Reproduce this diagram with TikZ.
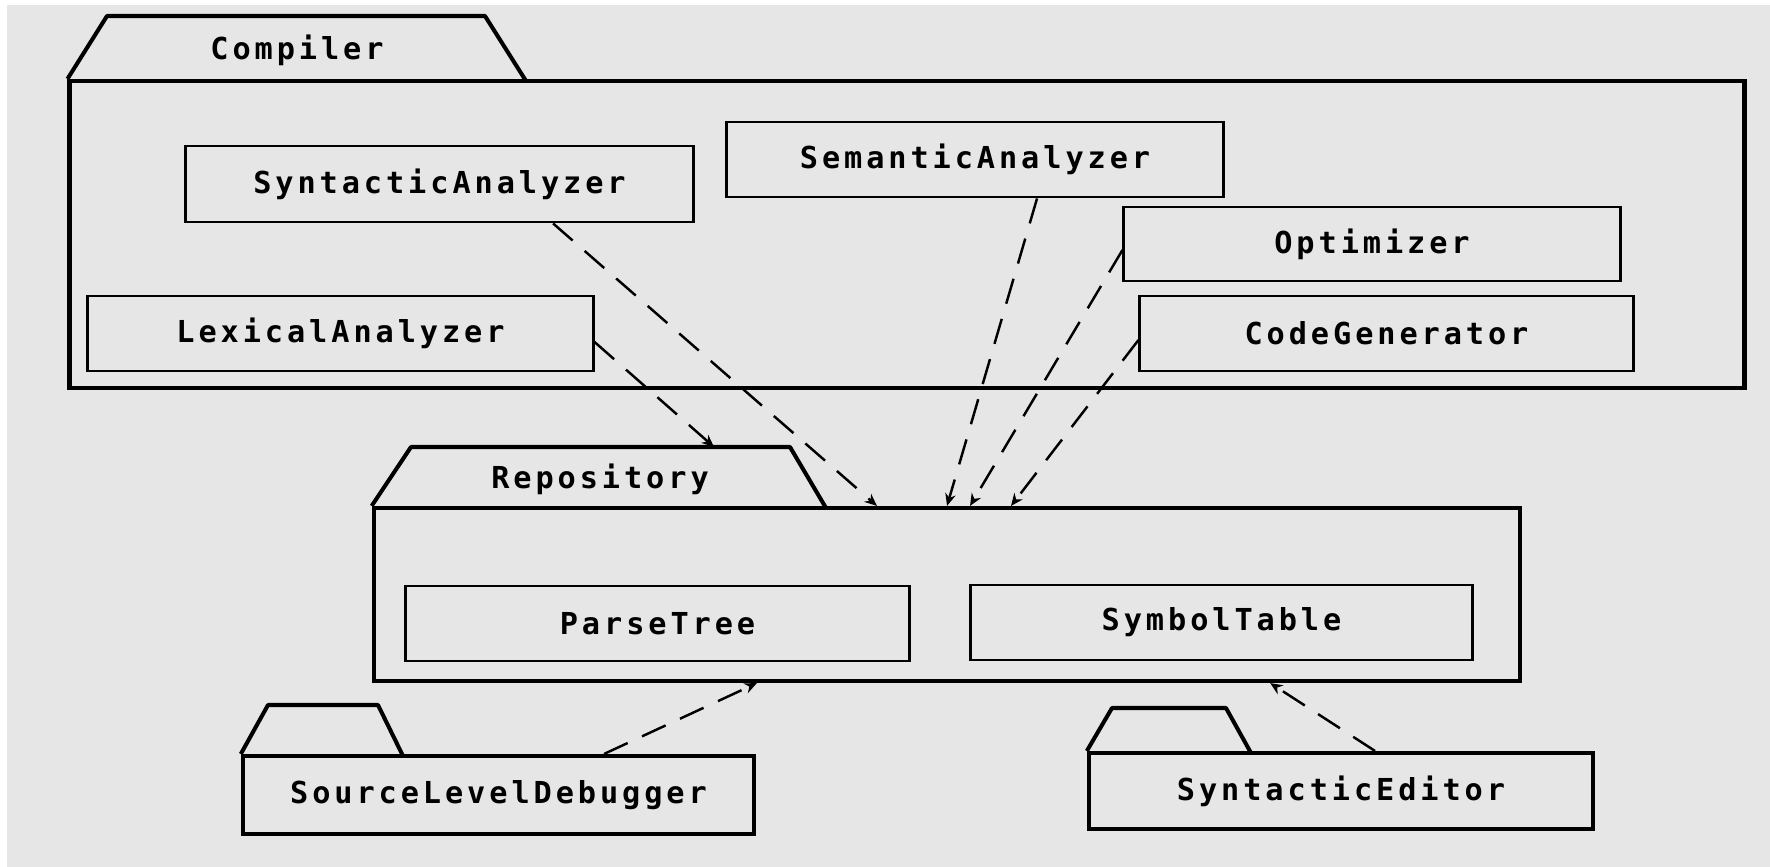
\documentclass[tikz,border=0pt]{standalone}
\usepackage{fontspec}
\newfontfamily\lblfont[LetterSpace=13]{DejaVu Sans Mono}
\usetikzlibrary{arrows.meta}
\definecolor{bg}{HTML}{E6E6E6}
\begin{document}
\begin{tikzpicture}[x=0.01cm,y=-0.01cm,
  txt/.style={font=\lblfont\fontsize{8.6pt}{10pt}\selectfont\bfseries},
  pkg/.style={draw=black, line width=1.15pt, rectangle, inner sep=0pt},
  cls/.style={draw=black, line width=0.8pt, rectangle, inner sep=0pt, txt},
  lbl/.style={inner sep=0pt, txt},
  tab/.style={draw=black, line width=1.15pt, line join=round},
  dep/.style={line width=0.7pt, dash pattern=on 7.4pt off 4.5pt, -{Stealth[length=3.5pt,width=3pt]}}
]
\useasboundingbox (0,0) rectangle (1770,867);
\fill[bg] (0,0) rectangle (1770,867);
\fill[white] (0,0) rectangle (1770,5);
\fill[white] (0,0) rectangle (7,867);

% Compiler package
\node[pkg, minimum width=16.74cm, minimum height=3.07cm] (compiler) at (907,234.5) {};
\draw[tab] (compiler.north west) -- (107,16) -- (485,16) -- (526,81);
\node[lbl] (compilerlbl) at (297,50) {Compiler};

\node[cls, minimum width=5.07cm, minimum height=0.76cm] (synt) at (439.5,184) {SyntacticAnalyzer};
\node[cls, minimum width=4.96cm, minimum height=0.75cm] (sem) at (975,159.5) {SemanticAnalyzer};
\node[cls, minimum width=4.96cm, minimum height=0.74cm] (opt) at (1372,244) {Optimizer};
\node[cls, minimum width=5.05cm, minimum height=0.75cm] (lex) at (340.5,333.5) {LexicalAnalyzer};
\node[cls, minimum width=4.93cm, minimum height=0.75cm] (code) at (1386.5,333.5) {CodeGenerator};

% Repository package
\node[pkg, minimum width=11.46cm, minimum height=1.73cm] (repo) at (947,594.5) {};
\draw[tab] (repo.north west) -- (411,447) -- (790,447) -- (826,508);
\node[lbl] (repolbl) at (600,479) {Repository};
\coordinate (lexend) at (714,447);

\node[cls, minimum width=5.03cm, minimum height=0.75cm] (parse) at (657.5,623.5) {ParseTree};
\node[cls, minimum width=5.01cm, minimum height=0.75cm] (symb) at (1221.5,622.5) {SymbolTable};

% SourceLevelDebugger package
\node[pkg, minimum width=5.11cm, minimum height=0.78cm, txt] (sld) at (498.5,795) {SourceLevelDebugger};
\draw[tab] (sld.north west) -- (268,705) -- (378,705) -- (403,756);

% SyntacticEditor package
\node[pkg, minimum width=5.04cm, minimum height=0.76cm, txt] (se) at (1341,791) {SyntacticEditor};
\draw[tab] (se.north west) -- (1112,708) -- (1226,708) -- (1251,753);

% dependencies
\draw[dep] ([xshift=1.135cm]synt.south) -- ([xshift=-0.70cm]repo.north);
\draw[dep] ([yshift=-0.085cm]lex.east) -- (lexend);
\draw[dep] ([xshift=0.62cm]sem.south) -- (repo.north);
\draw[dep] ([yshift=-0.06cm]opt.west) -- ([xshift=0.23cm]repo.north);
\draw[dep] ([yshift=-0.065cm]code.west) -- ([xshift=0.64cm]repo.north);
\draw[dep] ([xshift=1.055cm]sld.north) -- ([xshift=-1.90cm]repo.south);
\draw[dep] ([xshift=0.34cm]se.north) -- ([xshift=3.23cm]repo.south);
\end{tikzpicture}
\end{document}
